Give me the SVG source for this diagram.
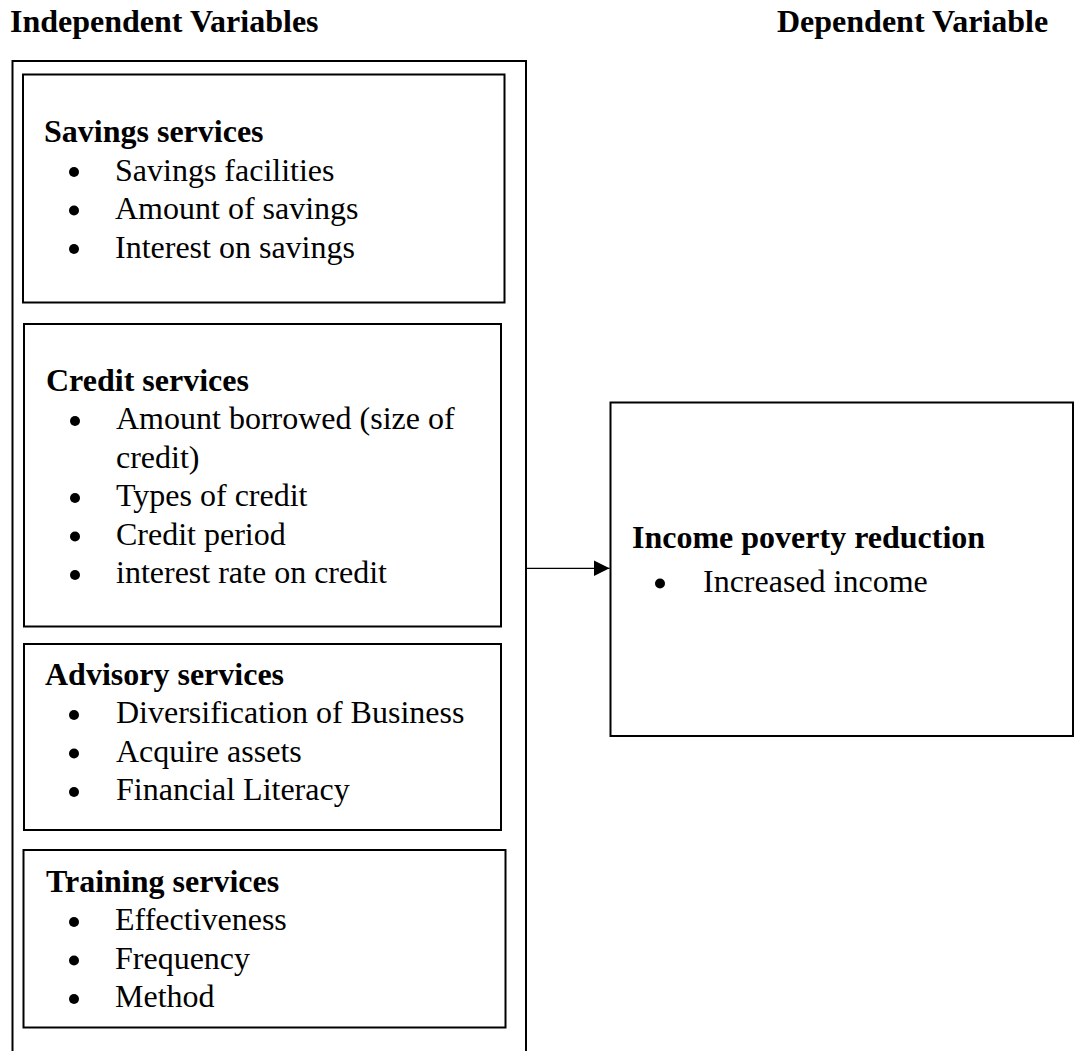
<svg xmlns="http://www.w3.org/2000/svg" width="1075" height="1051" viewBox="0 0 1075 1051">
<defs>
<style>
.box{fill:#fff;stroke:#000;stroke-width:2}
.t{font-family:"Liberation Serif","Times New Roman",serif;font-size:32px;fill:#000}
.h{font-weight:bold}
.b{fill:#000}
.c{stroke:#000;stroke-width:1.2;fill:none}
</style>
<marker id="ah" markerUnits="userSpaceOnUse" markerWidth="16" markerHeight="18" refX="16" refY="9" orient="auto">
<path d="M0,1 L16,9 L0,17 Z" fill="#000"/>
</marker>
</defs>
<rect width="1075" height="1051" fill="#fff"/>
<text class="t h" x="10" y="32">Independent Variables</text>
<text class="t h" x="777" y="32">Dependent Variable</text>
<g id="independent">
<rect class="box" x="12.5" y="61" width="513.5" height="1010"/>
</g>
<g id="savings">
<rect class="box" x="23" y="74.5" width="481.5" height="228"/>
<text class="t h" x="44" y="142">Savings services</text>
<circle class="b" cx="74" cy="172" r="5"/>
<text class="t" x="115" y="180.5">Savings facilities</text>
<circle class="b" cx="74" cy="210.5" r="5"/>
<text class="t" x="115" y="219">Amount of savings</text>
<circle class="b" cx="74" cy="249" r="5"/>
<text class="t" x="115" y="257.5">Interest on savings</text>
</g>
<g id="credit">
<rect class="box" x="24" y="324" width="477" height="302.5"/>
<text class="t h" x="46" y="390.5">Credit services</text>
<circle class="b" cx="75" cy="421" r="5"/>
<text class="t" x="116" y="429">Amount borrowed (size of</text>
<text class="t" x="116" y="467.5">credit)</text>
<circle class="b" cx="75" cy="498" r="5"/>
<text class="t" x="116" y="506">Types of credit</text>
<circle class="b" cx="75" cy="536.5" r="5"/>
<text class="t" x="116" y="544.5">Credit period</text>
<circle class="b" cx="75" cy="575" r="5"/>
<text class="t" x="116" y="583">interest rate on credit</text>
</g>
<g id="advisory">
<rect class="box" x="24" y="644" width="477" height="186"/>
<text class="t h" x="45" y="685">Advisory services</text>
<circle class="b" cx="74" cy="715" r="5"/>
<text class="t" x="116" y="723">Diversification of Business</text>
<circle class="b" cx="74" cy="753.5" r="5"/>
<text class="t" x="116" y="761.5">Acquire assets</text>
<circle class="b" cx="74" cy="792" r="5"/>
<text class="t" x="116" y="800">Financial Literacy</text>
</g>
<g id="training">
<rect class="box" x="23.5" y="850" width="482" height="177.5"/>
<text class="t h" x="46" y="891.5">Training services</text>
<circle class="b" cx="74" cy="922" r="5"/>
<text class="t" x="115" y="930">Effectiveness</text>
<circle class="b" cx="74" cy="960.5" r="5"/>
<text class="t" x="115" y="968.5">Frequency</text>
<circle class="b" cx="74" cy="999" r="5"/>
<text class="t" x="115" y="1007">Method</text>
</g>
<g id="dependent">
<rect class="box" x="610.5" y="402.5" width="462.5" height="333.5"/>
<text class="t h" x="632" y="548">Income poverty reduction</text>
<circle class="b" cx="660" cy="583.5" r="5"/>
<text class="t" x="703" y="592">Increased income</text>
</g>
<g id="connectors">
<line class="c" x1="526" y1="568.3" x2="609.5" y2="568.3" marker-end="url(#ah)"/>
</g>
</svg>
